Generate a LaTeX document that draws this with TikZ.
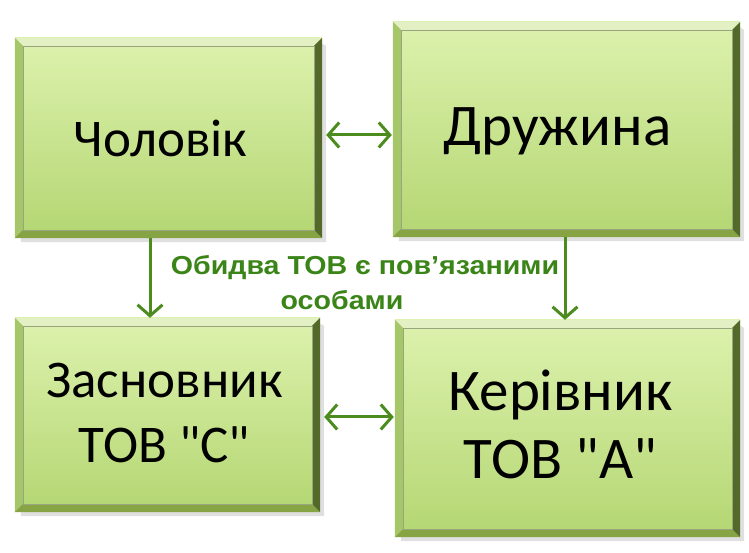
\documentclass[tikz,border=0pt]{standalone}
\usepackage{fontspec}
\newfontfamily\boxfont{Carlito}
\newfontfamily\labfont{Liberation Sans}
\usetikzlibrary{arrows.meta,calc}
\definecolor{facelight}{HTML}{DDF2AE}
\definecolor{facedark}{HTML}{B4D672}
\definecolor{bevtop}{HTML}{E2F0C4}
\definecolor{bevleft}{HTML}{A6C66A}
\definecolor{bevbot}{HTML}{86A444}
\definecolor{bevright}{HTML}{53692A}
\definecolor{arrgreen}{HTML}{4C8C1E}
\definecolor{labgreen}{HTML}{3A8418}
\tikzset{
  gbox/.style={rectangle, inner sep=0pt, align=center,
    top color=facelight, bottom color=facedark},
  btext/.style={align=center, text=black, inner sep=0pt,
    font=\boxfont\fontsize{53}{65}\selectfont},
  btextbig/.style={btext, font=\boxfont\fontsize{59}{68}\selectfont},
  barb/.tip={Straight Barb[length=11pt,width=25pt,line width=3pt]},
  conn/.style={draw=arrgreen, line width=3pt, -barb},
  dconn/.style={draw=arrgreen, line width=3pt, barb-barb},
  lab/.style={font=\labfont\bfseries\fontsize{26}{30}\selectfont, text=labgreen, inner sep=0pt, xscale=1.1}
}
\newcommand{\bevel}[1]{%
  \fill[black!12] ($(#1.north east)+(0,-6)$) -- ($(#1.north east)+(4,-8)$) -- ($(#1.south east)+(4,-4)$) -- ($(#1.south west)+(6,-4)$) -- ($(#1.south west)+(6,0)$) -- (#1.south east) -- cycle;
  \fill[bevtop] (#1.north west) -- (#1.north east) -- ($(#1.north east)+(-8,-8)$) -- ($(#1.north west)+(8,-8)$) -- cycle;
  \fill[bevleft] (#1.north west) -- ($(#1.north west)+(8,-8)$) -- ($(#1.south west)+(8,8)$) -- (#1.south west) -- cycle;
  \fill[bevbot] (#1.south west) -- ($(#1.south west)+(8,8)$) -- ($(#1.south east)+(-8,8)$) -- (#1.south east) -- cycle;
  \fill[bevright] (#1.south east) -- ($(#1.south east)+(-8,8)$) -- ($(#1.north east)+(-8,-8)$) -- (#1.north east) -- cycle;
  \draw[bevright!60, line width=0.5pt] ($(#1.north west)+(8,-8)$) rectangle ($(#1.south east)+(-8,8)$);
}
\begin{document}
\begin{tikzpicture}[x=1pt,y=1pt]
\useasboundingbox (0,0) rectangle (749,553);
\node[gbox, minimum width=307pt, minimum height=200pt] (b1) at (168.5,415) {};
\node[gbox, minimum width=347pt, minimum height=215pt] (b2) at (566.5,423.5) {};
\node[gbox, minimum width=305pt, minimum height=194pt] (b3) at (167.5,138) {};
\node[gbox, minimum width=345pt, minimum height=217pt] (b4) at (567.5,124.5) {};
\bevel{b1}\bevel{b2}\bevel{b3}\bevel{b4}
\node[btext] (t1) at ([xshift=-8pt]b1.center) {Чоловік};
\node[btextbig] (t2) at ([xshift=-9pt,yshift=-2pt]b2.center) {Дружина};
\node[btext] (t3) at ([xshift=-3pt,yshift=2pt]b3.center) {Засновник\\ТОВ "С"};
\node[btextbig] (t4) at ([xshift=-7pt,yshift=4pt]b4.center) {Керівник\\ТОВ "А"};
\node[lab] (l1) at (365,285) {Обидва ТОВ є пов’язаними};
\node[lab] (l2) at (342,253) {особами};
\draw[dconn] ($(b1.east)+(4,3)$) -- ($(b1.east -| b2.west)+(-1,3)$);
\draw[dconn] ($(b3.east)+(4,-2)$) -- ($(b3.east -| b4.west)+(-1,-2)$);
\draw[conn] ([xshift=-18.5pt]b1.south) -- ([xshift=-18.5pt]b1.south |- b3.north);
\draw[conn] ([xshift=-1.5pt]b2.south) -- ([xshift=-1.5pt]b2.south |- b4.north);
\end{tikzpicture}
\end{document}
